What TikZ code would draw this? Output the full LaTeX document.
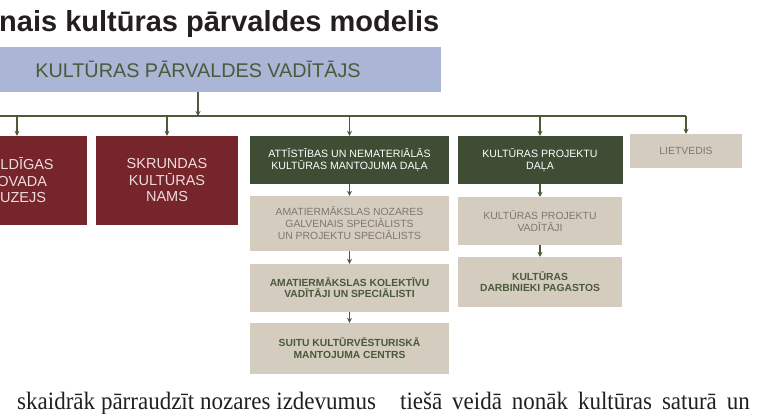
\documentclass[tikz,border=0pt]{standalone}
\usepackage{fontspec}
\setmainfont{Liberation Sans}
\newfontfamily\bodyserif{Liberation Serif}
\usetikzlibrary{arrows.meta}
\definecolor{lineg}{HTML}{4A5A3A}
\definecolor{headblue}{HTML}{ABB5D5}
\definecolor{unitred}{HTML}{76262A}
\definecolor{unittxt}{HTML}{EEDCDC}
\definecolor{deptg}{HTML}{3E4D33}
\definecolor{staffbg}{HTML}{D4CCBF}
\definecolor{stafftxt}{HTML}{80776A}
\definecolor{ink}{HTML}{231F20}
\tikzset{
  hd/.style={fill=headblue,text=lineg,inner sep=0pt,font=\fontsize{19.8}{22}\selectfont},
  unit/.style={fill=unitred,text=unittxt,inner sep=0pt,align=center,font=\fontsize{14.5}{16.5}\selectfont},
  dept/.style={fill=deptg,text=white,inner sep=0pt,align=center,font=\fontsize{10.6}{12.5}\selectfont},
  staff/.style={fill=staffbg,text=stafftxt,inner sep=0pt,align=center,font=\fontsize{10.4}{12}\selectfont},
  staffb/.style={staff,text=lineg,font=\fontsize{10.3}{11.5}\selectfont\bfseries},
  body/.style={anchor=base west,text=ink,inner sep=0pt,font=\bodyserif\fontsize{25}{28}\selectfont},
  ln/.style={lineg,line width=1.4pt},
  ar/.style={ln,-{Stealth[length=5pt,width=5pt]}}
}

\begin{document}
\begin{tikzpicture}[x=1pt,y=-1pt]
\useasboundingbox (0,0) rectangle (774,414);
\clip (0,0) rectangle (774,414);
\node[anchor=base west,text=ink,inner sep=0pt,font=\fontsize{29}{32}\selectfont\bfseries] (title) at (-1,32) {nais kultūras pārvaldes modelis};
\node[hd,minimum width=486pt,minimum height=45pt] (head) at (198,69.5) {KULTŪRAS PĀRVALDES VADĪTĀJS};
\node[unit,minimum width=140pt,minimum height=89pt] (muz) at (17,180.5) {KULDĪGAS\\NOVADA\\MUZEJS};
\node[unit,minimum width=142pt,minimum height=89pt] (skr) at (167,180.5) {SKRUNDAS\\KULTŪRAS\\NAMS};
\node[dept,minimum width=199pt,minimum height=48pt] (att) at (349.5,160) {ATTĪSTĪBAS UN NEMATERIĀLĀS\\KULTŪRAS MANTOJUMA DAĻA};
\node[staff,minimum width=199pt,minimum height=55pt] (galv) at (349.5,223.5) {AMATIERMĀKSLAS NOZARES\\GALVENAIS SPECIĀLISTS\\UN PROJEKTU SPECIĀLISTS};
\node[staffb,minimum width=199pt,minimum height=48pt] (kol) at (349.5,288) {AMATIERMĀKSLAS KOLEKTĪVU\\VADĪTĀJI UN SPECIĀLISTI};
\node[staffb,minimum width=199pt,minimum height=51pt] (suitu) at (349.5,348.5) {SUITU KULTŪRVĒSTURISKĀ\\MANTOJUMA CENTRS};
\node[dept,minimum width=165pt,minimum height=48pt] (proj) at (540,160) {KULTŪRAS PROJEKTU\\DAĻA};
\node[staff,minimum width=164pt,minimum height=48pt] (vad) at (540,221) {KULTŪRAS PROJEKTU\\VADĪTĀJI};
\node[staffb,minimum width=164pt,minimum height=50pt] (pag) at (540,282) {KULTŪRAS\\DARBINIEKI PAGASTOS};
\node[staff,minimum width=112pt,minimum height=34pt] (liet) at (686,151) {LIETVEDIS};
\coordinate (busL) at (-60,116);
\coordinate (bus) at (0,116);
\draw[ar] (head.south) -- (head.south |- bus);
\draw[ln] (busL) -- (bus -| liet);
\foreach \n in {muz,skr,att,proj,liet}
  \draw[ar] (\n.north |- bus) -- (\n.north);
\draw[ar] (att) -- (galv);
\draw[ar] (galv) -- (kol);
\draw[ar] (kol) -- (suitu);
\draw[ar] (proj) -- (vad);
\draw[ar] (vad) -- (pag);
\node[body] (left) at (17,409) {\scalebox{0.92}[1]{\makebox[390pt][s]{skaidrāk pārraudzīt nozares izdevumus}}};
\node[body] (right) at (400,409) {\scalebox{0.92}[1]{\makebox[380pt][s]{tiešā veidā nonāk kultūras saturā un}}};
\end{tikzpicture}
\end{document}
